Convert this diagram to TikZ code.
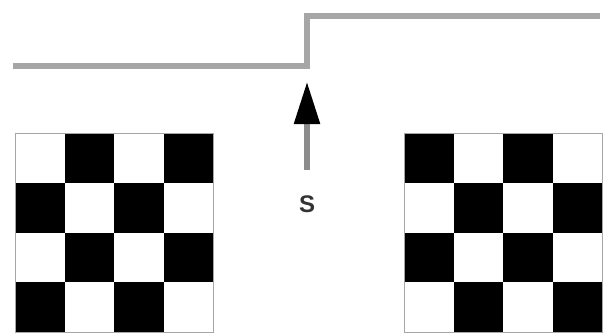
\documentclass[tikz,border=0pt]{standalone}
\usepackage{fontspec}
\setmainfont{Liberation Sans}
\usetikzlibrary{arrows.meta}
\definecolor{stepgray}{HTML}{A6A6A6}
\definecolor{shaftgray}{HTML}{8C8C8C}
\definecolor{labelgray}{HTML}{333333}
\begin{document}
\begin{tikzpicture}[x=1pt,y=-1pt,
  steppath/.style={draw=stepgray,line width=5.5pt,line join=miter},
  boardframe/.style={draw=gray!70,line width=1pt},
  blackcell/.style={fill=black},
  arrowshaft/.style={draw=shaftgray,line width=5.5pt,-{Triangle[length=42pt,width=25pt,color=black]}},
  labeltext/.style={font=\bfseries\fontsize{24}{24}\selectfont,text=labelgray,inner sep=0pt}]
\useasboundingbox (0,0) rectangle (604,335);
% step signal
\coordinate (s0) at (13,66);
\coordinate (s1) at (307,66);
\coordinate (s2) at (307,16);
\coordinate (s3) at (600,16);
\draw[steppath] (s0) -- (s1) -- (s2) -- (s3);
% arrow and label
\coordinate (atail) at (307,170);
\coordinate (ahead) at (307,82);
\draw[arrowshaft] (atail) -- (ahead);
\node[labeltext] (lbl) at (307,204) {S};
% left board (top-left white)
\foreach \i in {0,...,3}{
  \foreach \j in {0,...,3}{
    \pgfmathtruncatemacro{\cellpar}{mod(\i+\j,2)}
    \ifnum\cellpar=1
      \fill[blackcell] ({15+\i*49.5},{133+\j*49.75}) rectangle ++(49.5,49.75);
    \fi
  }
}
\node[boardframe,minimum width=198pt,minimum height=199pt,inner sep=0pt,anchor=north west] (leftboard) at (15,133) {};
% right board (top-left black)
\foreach \i in {0,...,3}{
  \foreach \j in {0,...,3}{
    \pgfmathtruncatemacro{\cellpar}{mod(\i+\j,2)}
    \ifnum\cellpar=0
      \fill[blackcell] ({404+\i*49.5},{133+\j*49.75}) rectangle ++(49.5,49.75);
    \fi
  }
}
\node[boardframe,minimum width=198pt,minimum height=199pt,inner sep=0pt,anchor=north west] (rightboard) at (404,133) {};
\end{tikzpicture}
\end{document}
